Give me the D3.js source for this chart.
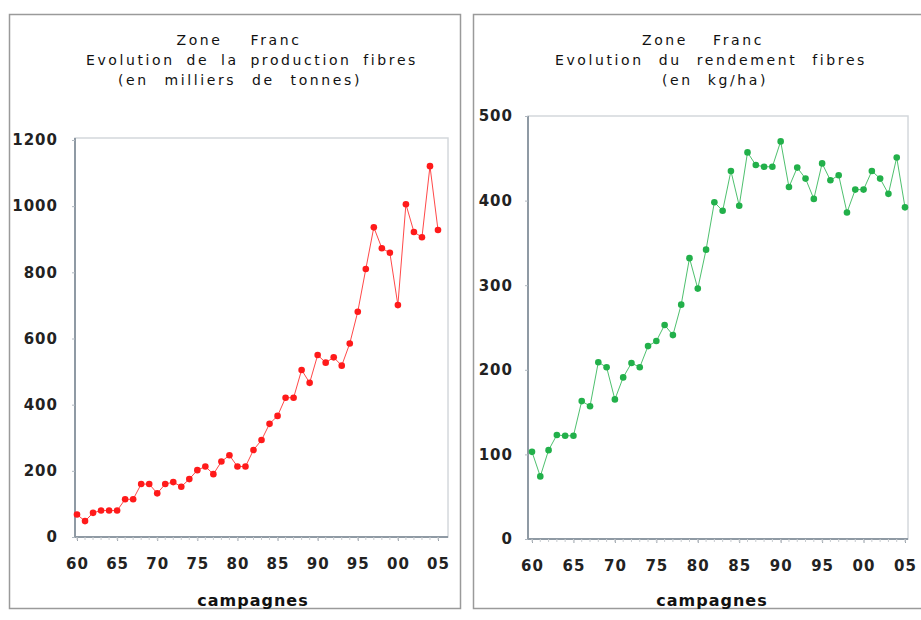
<!DOCTYPE html>
<html>
<head>
<meta charset="utf-8">
<script src="https://cdn.jsdelivr.net/npm/d3@7"></script>
<style>
  body { margin: 0; background: #fff; }
  text { font-family: "DejaVu Sans", sans-serif; }
</style>
</head>
<body>
<script>
// Data
var years = d3.range(1960, 2006);
var production = [68, 48, 73, 80, 80, 80, 114, 114, 160, 160,
                  132, 160, 166, 152, 175, 202, 213, 190, 228, 247,
                  213, 213, 263, 293, 342, 366, 421, 421, 505, 466,
                  550, 527, 543, 518, 585, 681, 810, 936, 873, 859,
                  701, 1006, 922, 906, 1121, 928];
var rendement = [103, 74, 105, 123, 122, 122, 163, 157, 209, 203,
                 165, 191, 208, 203, 228, 234, 253, 241, 277, 332,
                 296, 342, 398, 388, 435, 394, 457, 442, 440, 440,
                 470, 416, 439, 426, 402, 444, 424, 430, 386, 413,
                 413, 435, 426, 408, 451, 392];
var xTicks = [1960, 1965, 1970, 1975, 1980, 1985, 1990, 1995, 2000, 2005];
var yTicksProd = [0, 200, 400, 600, 800, 1000, 1200];
var yTicksRend = [0, 100, 200, 300, 400, 500];
var titlesProd = ["Zone Franc", "Evolution de la production fibres", "(en milliers de tonnes)"];
var titlesRend = ["Zone Franc", "Evolution du rendement fibres", "(en kg/ha)"];

var svg = d3.select("body").append("svg").attr("width", 921).attr("height", 620);

// outer panel frames
svg.append("rect").attr("x", 9.5).attr("y", 14.5).attr("width", 451).attr("height", 594)
   .attr("fill", "none").attr("stroke", "#9a9a9a").attr("stroke-width", 1.5);
svg.append("rect").attr("x", 473.5).attr("y", 14.5).attr("width", 460).attr("height", 594)
   .attr("fill", "none").attr("stroke", "#9a9a9a").attr("stroke-width", 1.5);

function drawPanel(cfg) {
    var g = svg.append("g");
    var x = d3.scaleLinear().domain([1960, 2005]).range(cfg.xr);
    var y = d3.scaleLinear().domain([0, cfg.ymax]).range(cfg.yr);

    // plot frame (top and right, light)
    g.append("rect").attr("x", cfg.box[0]).attr("y", cfg.box[1])
        .attr("width", cfg.box[2] - cfg.box[0]).attr("height", cfg.box[3] - cfg.box[1])
        .attr("fill", "none").attr("stroke", "#d4d8dc").attr("stroke-width", 1.5);

    // titles, stretched a bit like the original
    cfg.titles.forEach(function(t, i) {
        var tx = g.append("text").attr("x", cfg.tc[i]).attr("y", 45 + i * 20)
            .attr("text-anchor", "middle").attr("font-size", "14px")
            .attr("fill", "#111").attr("letter-spacing", "2.6px").text(t);
        var gaps = t.split(" ").length - 1;
        var len = tx.node().getComputedTextLength();
        if (gaps > 0 && len < cfg.tw[i]) tx.attr("word-spacing", ((cfg.tw[i] - len) / gaps) + "px");
    });

    // x axis
    var xa = g.append("g").attr("transform", "translate(0," + cfg.box[3] + ")")
        .call(d3.axisBottom(x).tickValues(xTicks).tickSize(4).tickPadding(17)
            .tickFormat(function(d) { return d3.format("02d")(d % 100); }));
    xa.select(".domain").attr("stroke", "#8f9aa4").attr("stroke-width", 2)
        .attr("d", "M" + cfg.box[0] + ",0H" + cfg.box[2]);
    // minor yearly ticks
    xa.selectAll(".minor").data(years).enter().append("line").attr("class", "minor")
        .attr("x1", function(d) { return x(d); }).attr("x2", function(d) { return x(d); })
        .attr("y1", 0).attr("y2", 3).attr("stroke", "#c8ccd0");
    xa.selectAll(".tick line").attr("stroke", "#9aa2aa");
    xa.selectAll(".tick text").attr("font-size", "15px").attr("font-weight", "bold")
        .attr("fill", "#222").attr("letter-spacing", "1px").attr("font-family", "DejaVu Sans");

    // y axis
    var ya = g.append("g").attr("transform", "translate(" + cfg.box[0] + ",0)")
        .call(d3.axisLeft(y).tickValues(cfg.yTicks).tickSize(3).tickPadding(cfg.pad)
            .tickFormat(d3.format("d")));
    ya.select(".domain").attr("stroke", "#8f9aa4").attr("stroke-width", 2)
        .attr("d", "M0," + cfg.box[1] + "V" + cfg.box[3]);
    ya.selectAll(".tick line").attr("stroke", "#b0b8c0");
    ya.selectAll(".tick text").attr("font-size", "15px").attr("font-weight", "bold")
        .attr("fill", "#222").attr("letter-spacing", "1px").attr("font-family", "DejaVu Sans");

    // axis title
    g.append("text").attr("x", cfg.lc).attr("y", 606).attr("text-anchor", "middle")
        .attr("font-size", "16px").attr("font-weight", "bold").attr("letter-spacing", "1px")
        .attr("fill", "#111").text("campagnes");

    // line + markers
    var line = d3.line().x(function(d, i) { return x(years[i]); }).y(function(d) { return y(d); });
    g.append("path").datum(cfg.values).attr("d", line)
        .attr("fill", "none").attr("stroke", cfg.color).attr("stroke-width", 1).attr("opacity", 0.8);
    g.selectAll(".pt").data(cfg.values).enter().append("circle").attr("class", "pt")
        .attr("cx", function(d, i) { return x(years[i]); })
        .attr("cy", function(d) { return y(d); })
        .attr("r", 3.3).attr("fill", cfg.color);
}

drawPanel({
    values: production, ymax: 1200, yTicks: yTicksProd, titles: titlesProd,
    xr: [77, 438], yr: [537, 140], box: [75, 138, 448, 537],
    tc: [239, 252, 240], tw: [125, 332, 244], lc: 253, color: "#ff1a1a", pad: 14
});
drawPanel({
    values: rendement, ymax: 500, yTicks: yTicksRend, titles: titlesRend,
    xr: [532, 905], yr: [539, 116], box: [528, 116, 908, 539],
    tc: [703, 711, 715], tw: [122, 312, 106], lc: 712, color: "#22b04a", pad: 12
});
</script>
</body>
</html>
